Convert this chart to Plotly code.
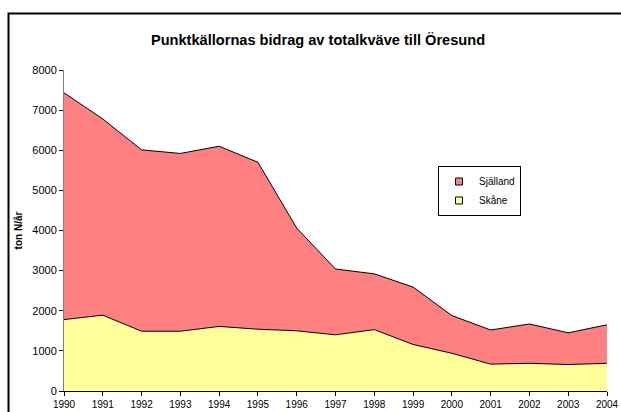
import plotly.graph_objects as go

years = [1990, 1991, 1992, 1993, 1994, 1995, 1996, 1997, 1998, 1999, 2000, 2001, 2002, 2003, 2004]
skane = [1780, 1890, 1490, 1490, 1610, 1540, 1500, 1400, 1530, 1160, 940, 670, 690, 660, 690]
total = [7430, 6780, 6010, 5920, 6100, 5700, 4060, 3040, 2920, 2590, 1880, 1520, 1670, 1450, 1650]
sjalland = [t - s for t, s in zip(total, skane)]

y_ticks = [0, 1000, 2000, 3000, 4000, 5000, 6000, 7000, 8000]

RED = "#FF8080"
YELLOW = "#FFFF99"

fig = go.Figure()
fig.add_trace(go.Scatter(x=years, y=skane, name="Skåne", stackgroup="one",
                         mode="lines", line=dict(color="black", width=1),
                         fillcolor=YELLOW, showlegend=False))
fig.add_trace(go.Scatter(x=years, y=sjalland, name="Själland", stackgroup="one",
                         mode="lines", line=dict(color="black", width=1),
                         fillcolor=RED, showlegend=False))
# legend entries (square swatches)
fig.add_trace(go.Scatter(x=[None], y=[None], name="Själland", mode="markers",
                         marker=dict(symbol="square", size=7, color=RED,
                                     line=dict(color="black", width=1))))
fig.add_trace(go.Scatter(x=[None], y=[None], name="Skåne", mode="markers",
                         marker=dict(symbol="square", size=7, color=YELLOW,
                                     line=dict(color="black", width=1))))

W, H = 621, 412
L, R, T, B = 64, 14, 70, 21
pw = W - L - R
ph = H - T - B

def px_x(p):
    return (p - L) / pw

def px_y(p):
    return (H - B - p) / ph

fig.update_layout(
    width=W, height=H,
    margin=dict(l=L, r=R, t=T, b=B, autoexpand=False),
    paper_bgcolor="white", plot_bgcolor="white",
    font=dict(family="Liberation Sans, Arial, sans-serif", size=11, color="black"),
    title=dict(text="<b>Punktkällornas bidrag av totalkväve till Öresund</b>",
               font=dict(size=14.6, color="black"),
               x=318 / W, xanchor="center", xref="container",
               y=1 - 40 / H, yanchor="middle", yref="container"),
    showlegend=True,
    legend=dict(x=px_x(438), y=px_y(166), xanchor="left", yanchor="top",
                bgcolor="white", bordercolor="black", borderwidth=1,
                traceorder="normal", font=dict(size=10),
                itemwidth=30, tracegroupgap=0),
    xaxis=dict(range=[1990, 2004], tickmode="array", tickvals=years,
               ticktext=[str(y) for y in years], automargin=False,
               showgrid=False, zeroline=False, showline=True,
               linecolor="black", linewidth=1,
               ticks="outside", ticklen=4, tickcolor="black",
               tickfont=dict(size=10)),
    yaxis=dict(range=[0, 8000], tickmode="array", tickvals=y_ticks,
               automargin=False,
               showgrid=False, zeroline=False, showline=True,
               linecolor="#808080", linewidth=1,
               ticks="outside", ticklen=4, tickcolor="black",
               tickfont=dict(size=11),
               title=dict(text="<b>ton N/år</b>", font=dict(size=10), standoff=7)),
    shapes=[dict(type="rect", xref="paper", yref="paper",
                 x0=px_x(8.5), x1=px_x(640), y0=px_y(430), y1=px_y(13.5),
                 line=dict(color="black", width=2), fillcolor="rgba(0,0,0,0)",
                 layer="below")],
)

fig.write_html("out.html",
               config={"displayModeBar": False},
               post_script="document.body.style.margin='0';document.body.style.overflow='hidden';")
